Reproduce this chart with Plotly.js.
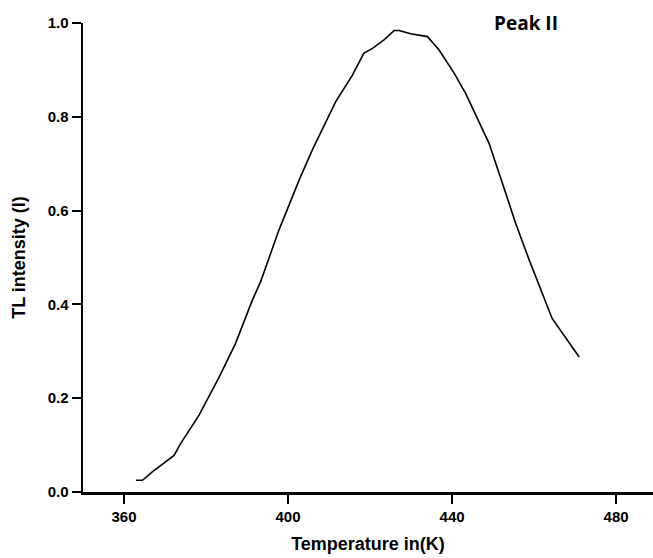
<!DOCTYPE html>
<html>
<head>
<meta charset="utf-8">
<script src="https://cdn.plot.ly/plotly-3.0.1.min.js"></script>
<style>html,body{margin:0;padding:0;background:#fff;}#chart{width:653px;height:558px;}</style>
</head>
<body>
<div id="chart"></div>
<script>
var temperature = [362.9, 364.5, 366.9, 372.2, 373.8, 378.3, 383.2, 387.2, 391.3, 393.3, 397.8, 402.7, 405.9, 409.2, 411.6, 415.7, 418.5, 420.6, 423.4, 425.9, 427.1, 429.9, 434.0, 436.8, 440.5, 443.3, 449.0, 452.3, 455.5, 458.8, 462.0, 464.4, 471.0];
var intensity = [0.025, 0.025, 0.043, 0.078, 0.103, 0.164, 0.245, 0.317, 0.409, 0.448, 0.559, 0.665, 0.729, 0.790, 0.832, 0.889, 0.936, 0.946, 0.964, 0.984, 0.984, 0.977, 0.971, 0.943, 0.893, 0.850, 0.744, 0.658, 0.573, 0.495, 0.423, 0.370, 0.288];
var xTicks = [360, 400, 440, 480];
var yTicks = [0.0, 0.2, 0.4, 0.6, 0.8, 1.0];
var yTickText = ["0.0", "0.2", "0.4", "0.6", "0.8", "1.0"];
var peakLabel = "Peak II";

var tickFont = {family: "Liberation Sans, Arial, sans-serif", size: 15, color: "#000", weight: "bold"};
var titleFont = {family: "Liberation Sans, Arial, sans-serif", size: 18, color: "#000", weight: "bold"};

var trace = {
  x: temperature, y: intensity, type: "scatter", mode: "lines",
  line: {color: "#000", width: 1.6}, hoverinfo: "skip"
};

var layout = {
  width: 653, height: 558,
  margin: {l: 83, r: 0, t: 23, b: 66},
  paper_bgcolor: "#fff", plot_bgcolor: "#fff",
  showlegend: false,
  xaxis: {
    range: [350, 489], tickvals: xTicks, ticks: "outside", ticklen: 9, tickwidth: 2, tickcolor: "#000",
    showline: true, linecolor: "#000", linewidth: 2.5, showgrid: false, zeroline: false,
    tickfont: tickFont,
    title: {text: "Temperature in(K)", font: titleFont, standoff: 14}
  },
  yaxis: {
    range: [0, 1.0], tickvals: yTicks, ticktext: yTickText, ticks: "outside", ticklen: 9, tickwidth: 2, tickcolor: "#000",
    showline: true, linecolor: "#000", linewidth: 2.5, showgrid: false, zeroline: false,
    tickfont: tickFont,
    title: {text: "TL intensity (I)", font: titleFont, standoff: 18}
  },
  annotations: [{
    text: peakLabel, x: 458, y: 1.0, xref: "x", yref: "y", showarrow: false,
    xanchor: "center", yanchor: "middle",
    font: {family: "Open Sans, sans-serif", size: 19, color: "#000", weight: "bold"}
  }]
};

Plotly.newPlot("chart", [trace], layout, {displayModeBar: false, staticPlot: true});
</script>
</body>
</html>
